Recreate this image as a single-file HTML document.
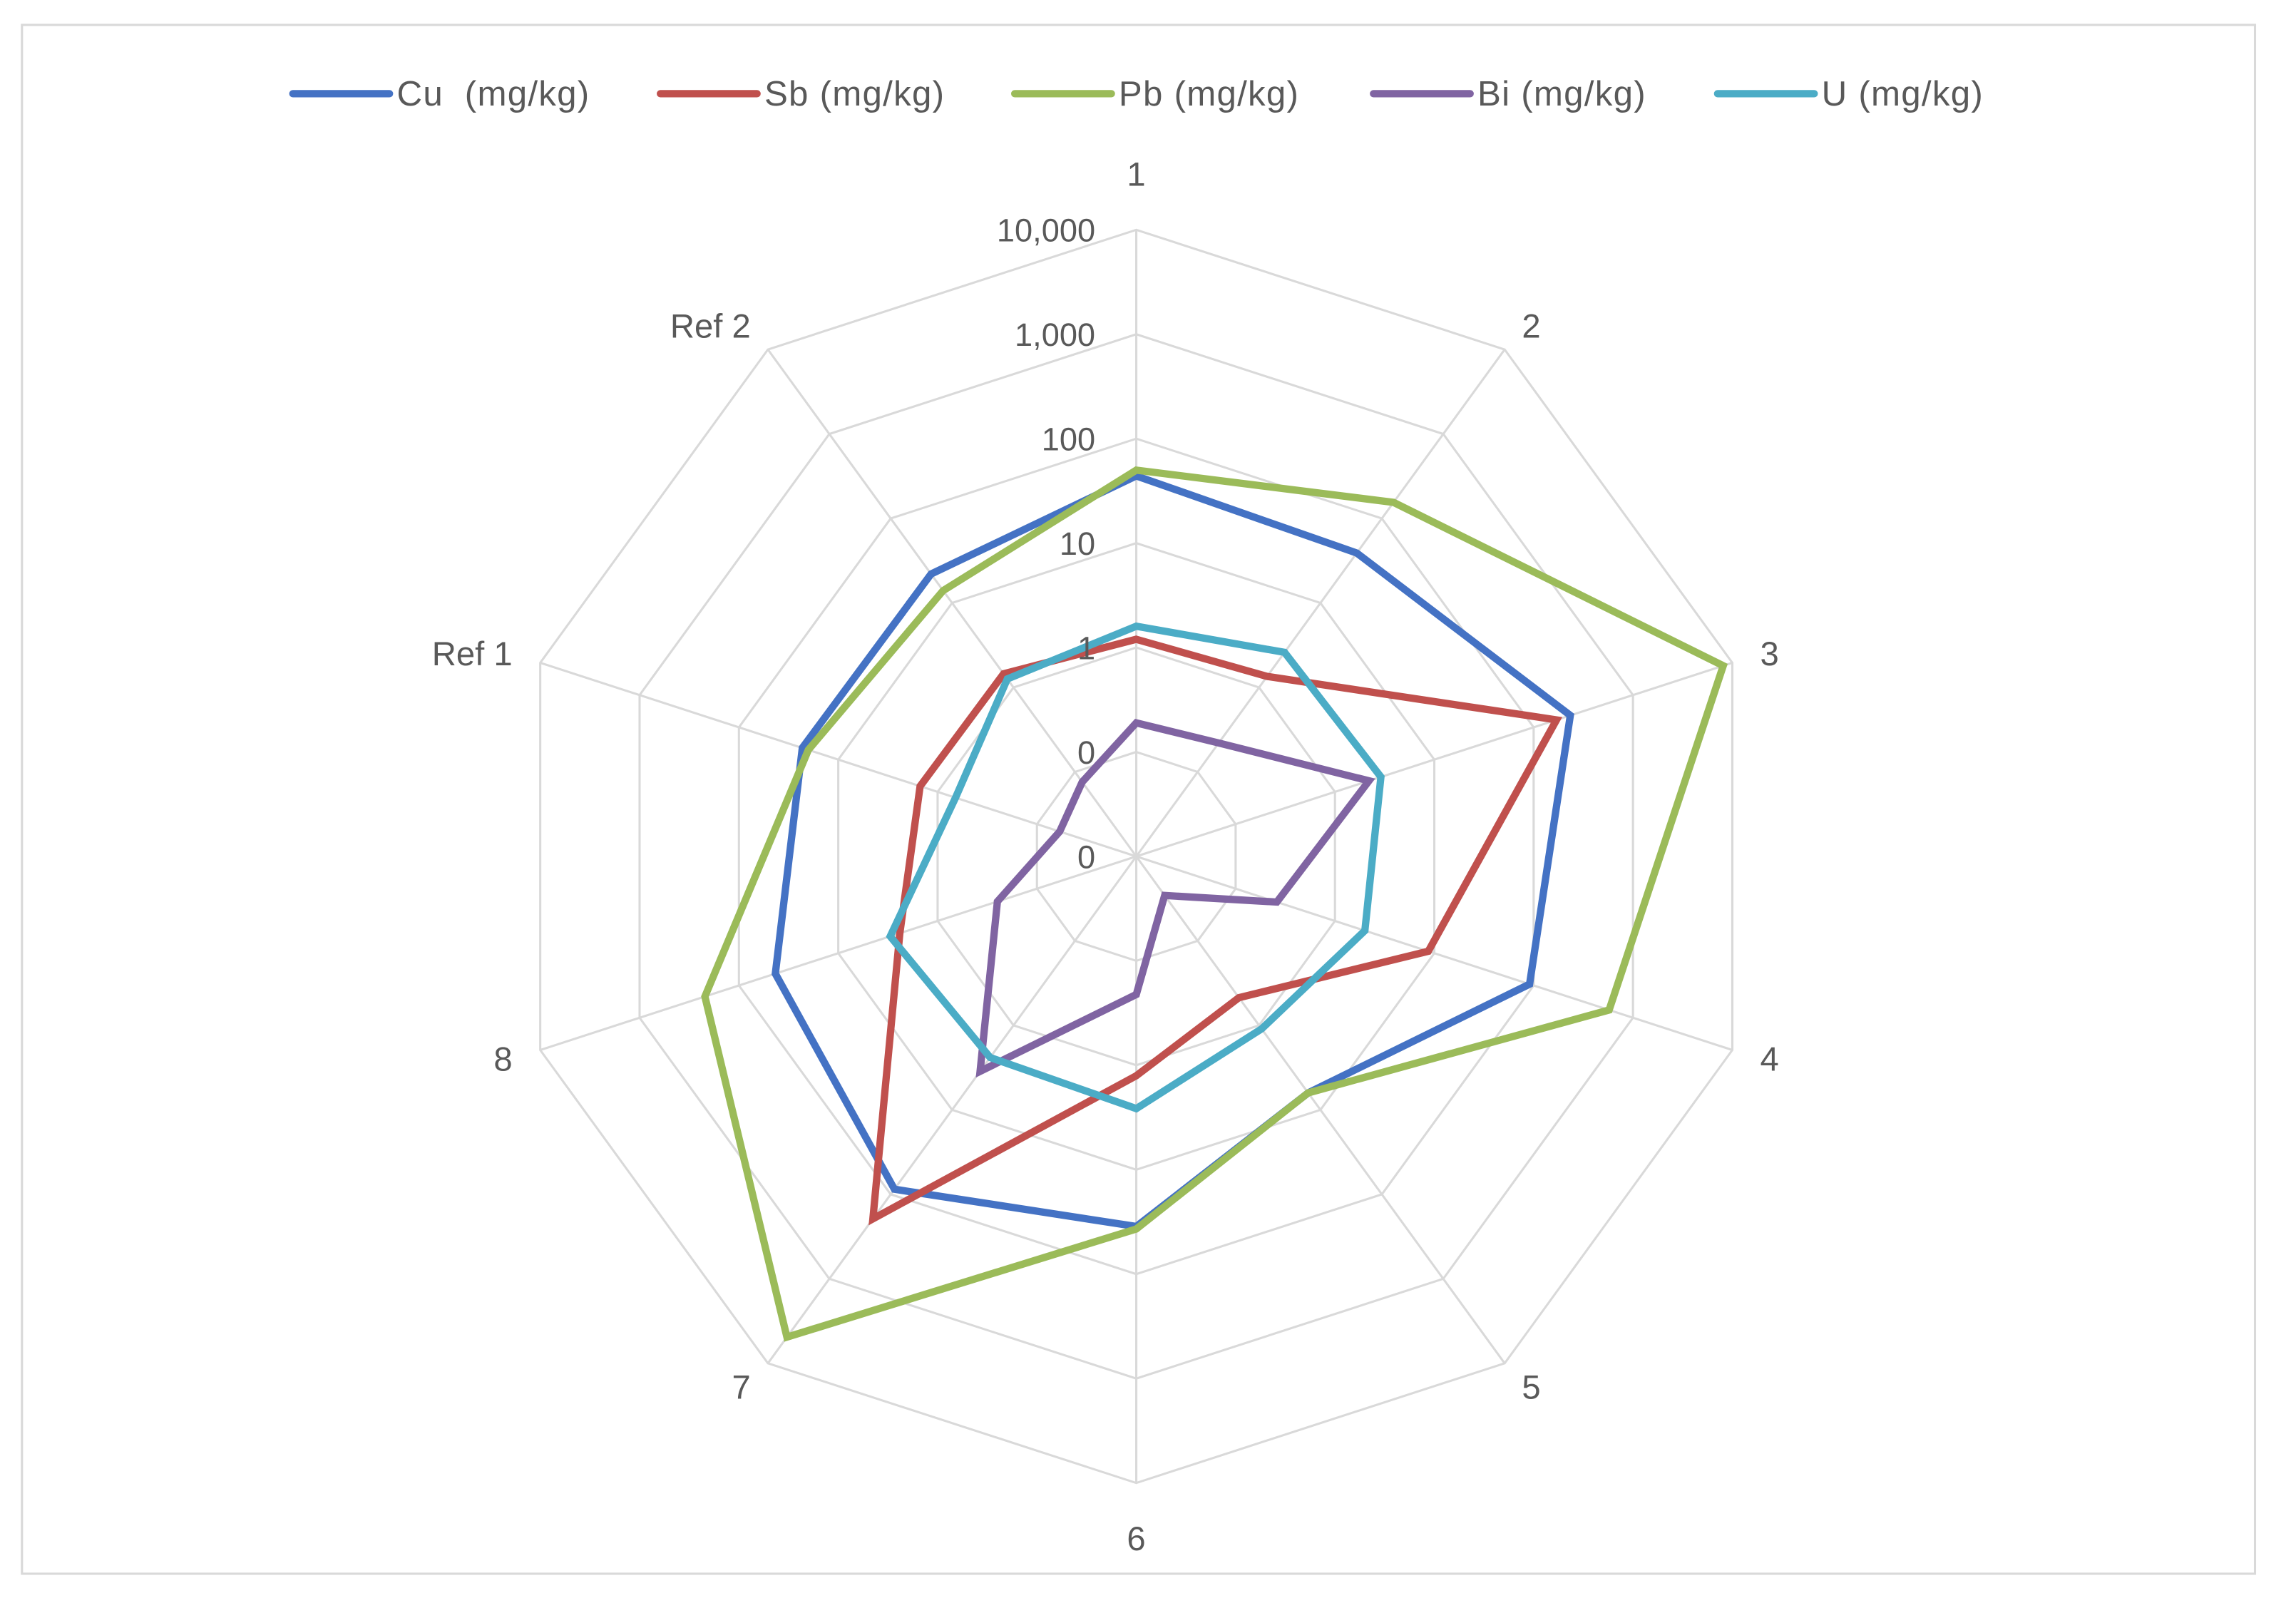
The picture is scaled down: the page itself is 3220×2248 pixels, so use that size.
<!DOCTYPE html>
<html><head><meta charset="utf-8">
<style>
html,body{margin:0;padding:0;background:#fff;}
svg{display:block;}
text{font-family:"Liberation Sans",sans-serif;fill:#595959;}
</style></head>
<body>
<svg id="chart" width="3220" height="2248" viewBox="0 0 1568 1095" preserveAspectRatio="none" xmlns="http://www.w3.org/2000/svg">
<rect x="15" y="17" width="1525" height="1058" fill="#fff" stroke="#d9d9d9" stroke-width="1.5"/>
<g id="grid"></g>
<g id="series"></g>
<g id="labels"></g>
<g id="legend"></g>
</svg>
<script>
const categories = ["1","2","3","4","5","6","7","8","Ref 1","Ref 2"];
const tickValues = [0.01,0.1,1,10,100,1000,10000];
const tickLabels = ["0","0","1","10","100","1,000","10,000"];
const seriesNames = ["Cu\u00a0\u00a0(mg/kg)","Sb (mg/kg)","Pb (mg/kg)","Bi (mg/kg)","U (mg/kg)"];
const seriesColors = ["#4472c4","#c0504d","#9bbb59","#8064a2","#4bacc6"];
const cuValues = [44,39,234,91,6.3,35,87,43,23,22];
const sbValues = [1.2,1.35,170,8.7,0.47,1.26,195,2.4,1.5,1.45];
const pbValues = [50,155,8100,575,6.3,37,4900,220,20,14];
const biValues = [0.19,0.22,2.2,0.26,0.029,0.21,3.5,0.25,0.059,0.076];
const uValues = [1.6,2.6,2.9,2.0,1.1,2.6,2.4,3.0,0.66,1.26];
const allSeries = [cuValues,sbValues,pbValues,biValues,uValues];

const NS="http://www.w3.org/2000/svg";
const cx=776, cy=585, rMax=428, minLog=-2, maxLog=4;
function rScale(v){const l=Math.log10(Math.max(v,1e-6));return (l-minLog)/(maxLog-minLog)*rMax;}
function angle(i){return i*2*Math.PI/categories.length;}
function pt(i,r){return [cx+r*Math.sin(angle(i)), cy-r*Math.cos(angle(i))];}
function mk(tag,attrs,parent){const e=document.createElementNS(NS,tag);for(const k in attrs)e.setAttribute(k,attrs[k]);parent.appendChild(e);return e;}

const grid=document.getElementById('grid');
tickValues.forEach((tv,ti)=>{
  if(ti===0)return;
  const r=rScale(tv);
  const pts=categories.map((c,i)=>pt(i,r).join(',')).join(' ');
  const g=mk('polygon',{points:pts,fill:'none',stroke:'#d9d9d9','stroke-width':1.5},grid);
  
  
});
categories.forEach((c,i)=>{
  const [x,y]=pt(i,rMax);
  const l=mk('line',{x1:cx,y1:cy,x2:x,y2:y,stroke:'#d9d9d9','stroke-width':1.5},grid);
  
  
});

const labels=document.getElementById('labels');
tickValues.forEach((tv,ti)=>{
  const r=rScale(tv);
  const t=mk('text',{x:748,y:cy-r+8,'text-anchor':'end','font-size':22},labels);
  t.textContent=tickLabels[ti];
  
  
});
categories.forEach((c,i)=>{
  const s=Math.sin(angle(i)), co=Math.cos(angle(i));
  const rl = Math.abs(co)>0.9 ? 466 : 448;
  const [x,y]=pt(i,rl);
  const anchor = s>0.1 ? 'start' : (s<-0.1 ? 'end' : 'middle');
  const t=mk('text',{x:x,y:y+8,'text-anchor':anchor,'font-size':23},labels);
  t.textContent=c;
  
  
});

const sg=document.getElementById('series');
allSeries.forEach((vals,si)=>{
  const pts=vals.map((v,i)=>pt(i,rScale(v)).join(',')).join(' ');
  const p=mk('polygon',{points:pts,fill:'none',stroke:seriesColors[si],'stroke-width':5,'stroke-linejoin':'miter'},sg);
  
  
});

const lg=document.getElementById('legend');
const legendX=[200,451,693,938,1173];
seriesNames.forEach((n,si)=>{
  const x=legendX[si];
  const l=mk('line',{x1:x,y1:64,x2:x+66,y2:64,stroke:seriesColors[si],'stroke-width':5,'stroke-linecap':'round'},lg);
  
  
  const t=mk('text',{x:x+71,y:72,'font-size':24,'letter-spacing':0.6},lg);
  t.textContent=n;
  
  
});
</script>
</body></html>
